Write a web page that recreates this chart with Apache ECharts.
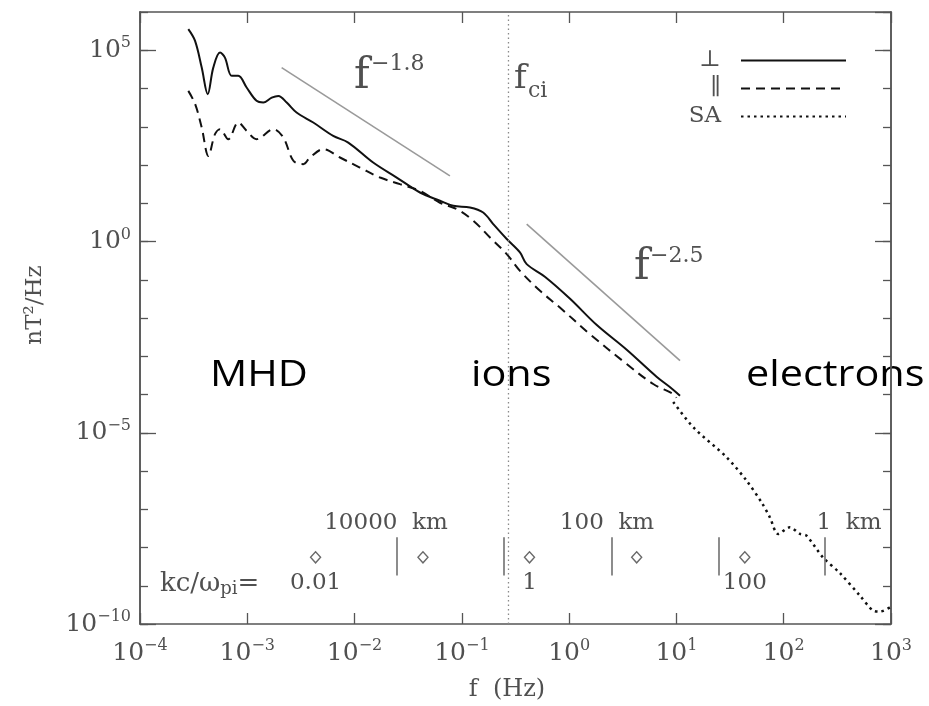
<!DOCTYPE html>
<html>
<head>
<meta charset="utf-8">
<script src="https://cdn.jsdelivr.net/npm/echarts@6/dist/echarts.min.js"></script>
<style>
  html, body { margin: 0; padding: 0; background: #fff; }
  #chart { width: 929px; height: 706px; }
</style>
</head>
<body>
<div id="chart"></div>
<script>
// Magnetic-field power spectral density in the solar wind, from MHD to electron scales.

// Perpendicular component (solid)
const perpFreq = [2.82e-4, 3.26e-4, 3.76e-4, 4.28e-4, 4.82e-4, 5.57e-4, 6.19e-4, 7.16e-4, 8.24e-4, 9.86e-4,
  1.22e-3, 1.41e-3, 1.69e-3, 1.95e-3, 2.33e-3, 2.88e-3, 4.12e-3, 6.32e-3, 8.73e-3, 0.0149,
  0.0247, 0.0407, 0.0625, 0.0832, 0.119, 0.158, 0.196, 0.262, 0.348, 0.402,
  0.594, 1.02, 1.80, 3.44, 6.53, 9.08, 10.8];
const perpPsd = [3.55e5, 1.75e5, 3.52e4, 7.11e3, 3.52e4, 8.69e4, 6.43e4, 2.14e4, 2.14e4, 1.06e4,
  4.75e3, 4.29e3, 5.79e3, 6.41e3, 4.29e3, 2.35e3, 1.29e3, 578, 386, 116,
  47.0, 19.1, 11.6, 8.57, 7.73, 5.73, 2.85, 1.16, 0.516, 0.256,
  0.120, 0.0318, 6.65e-3, 1.48e-3, 2.92e-4, 1.42e-4, 9.29e-5];

// Parallel component (dashed)
const parFreq = [2.82e-4, 3.26e-4, 3.76e-4, 4.34e-4, 5.00e-4, 5.57e-4, 6.65e-4, 8.24e-4, 9.86e-4, 1.22e-3,
  1.75e-3, 2.17e-3, 2.69e-3, 3.33e-3, 3.84e-3, 5.11e-3, 7.31e-3, 0.0112, 0.0173, 0.0265,
  0.0407, 0.0625, 0.0895, 0.128, 0.183, 0.262, 0.348, 0.535, 0.820, 1.56,
  3.44, 6.08, 9.33, 10.0];
const parPsd = [8.67e3, 3.96e3, 953, 173, 640, 865, 474, 1.29e3, 782, 474,
  865, 522, 129, 105, 157, 259, 157, 85.9, 47.0, 31.6,
  21.1, 10.3, 7.03, 3.48, 1.27, 0.469, 0.171, 0.0515, 0.0188, 3.80e-3,
  6.25e-4, 1.88e-4, 1.03e-4, 8.24e-5];

// Search-coil (SA) spectrum (dotted)
const saFreq = [9.33, 14.4, 29.4, 45.1, 63.1, 74.3, 88.9, 114, 142, 163, 233, 334, 513, 682, 789, 977];
const saPsd = [6.41e-5, 1.38e-5, 2.27e-6, 5.58e-7, 1.41e-7, 6.14e-8, 2.26e-8, 3.37e-8, 2.26e-8, 2.04e-8,
  5.43e-9, 2.14e-9, 5.52e-10, 2.24e-10, 2.11e-10, 2.73e-10];

// Reference power laws
const lowSlopeFreq = [2.09e-3, 0.0774];
const lowSlopePsd = [3.52e4, 52.1];
const highSlopeFreq = [0.402, 10.8];
const highSlopePsd = [2.85, 7.64e-4];

// Ion cyclotron frequency (Hz)
const fci = 0.272;

// kc/omega_pi markers
const kcFreq = [4.33e-3, 0.0434, 0.427, 4.26, 43.4];
const kcLevel = 5.53e-9;
const kcLabels = ['0.01', '', '1', '', '100'];

// Spatial scale bars (10000 km ... 1 km)
const scaleFreq = [0.0247, 0.248, 2.48, 24.9, 242];
const scaleTop = 1.84e-8;
const scaleBottom = 1.84e-9;

// Axis ranges and labelled decades
const xMinExp = -4, xMaxExp = 3;
const yMinExp = -10, yMaxExp = 6;
const xTickExp = [-4, -3, -2, -1, 0, 1, 2, 3];
const yTickExp = [-10, -5, 0, 5];

const SERIF = 'DejaVu Serif';
const SANS = 'Open Sans';
const INK = '#505050';
const AXIS = '#555';

const lg = Math.log10;
const pairs = (fs, ps) => fs.map((f, i) => [lg(f), lg(ps[i])]);
const supText = e => (e < 0 ? '\u2212' + (-e) : String(e));
const powLabel = e => '{b|10}{s|' + supText(e) + '}';
const richPow = {
  b: { fontFamily: SERIF, fontSize: 25, lineHeight: 30, color: INK },
  s: { fontFamily: SERIF, fontSize: 16, lineHeight: 13, verticalAlign: 'top', color: INK }
};

function baseX(pos, showLabel) {
  return {
    type: 'value', position: pos, min: xMinExp, max: xMaxExp, interval: 1,
    axisLine: { show: true, onZero: false, lineStyle: { color: AXIS, width: 1.5 } },
    axisTick: { show: true, inside: true, length: 11, lineStyle: { color: AXIS, width: 1.3 } },
    splitLine: { show: false },
    axisLabel: showLabel ? {
      show: true, margin: 14,
      formatter: v => (xTickExp.includes(v) ? powLabel(v) : ''),
      rich: richPow
    } : { show: false }
  };
}
function baseY(pos, interval, tickLen, showLabel) {
  return {
    type: 'value', position: pos, min: yMinExp, max: yMaxExp, interval: interval,
    axisLine: { show: true, onZero: false, lineStyle: { color: AXIS, width: 1.5 } },
    axisTick: { show: true, inside: true, length: tickLen, lineStyle: { color: AXIS, width: 1.3 } },
    splitLine: { show: false },
    axisLabel: showLabel ? {
      show: true, margin: 9, showMaxLabel: false,
      formatter: v => (yTickExp.includes(v) ? powLabel(v) : ''),
      rich: richPow
    } : { show: false }
  };
}

function txt(str, x, y, size, family, align, extra) {
  return Object.assign({
    type: 'text', x: x, y: y, silent: true,
    style: { text: str, fontFamily: family, fontSize: size, fill: family === SANS ? '#000' : INK,
      align: align, verticalAlign: 'middle' }
  }, extra || {});
}

const chart = echarts.init(document.getElementById('chart'), null, { renderer: 'canvas' });

chart.setOption({
  animation: false,
  backgroundColor: '#fff',
  textStyle: { fontFamily: SERIF },
  grid: { left: 140, top: 12, width: 751, height: 612, containLabel: false, outerBoundsMode: 'none' },
  xAxis: [baseX('bottom', true), baseX('top', false)],
  yAxis: [
    baseY('left', 5, 16, true),
    baseY('left', 1, 8, false),
    baseY('right', 5, 16, false),
    baseY('right', 1, 8, false)
  ],
  legend: {
    data: ['\u22A5', '\u2225', 'SA'],
    orient: 'vertical', align: 'right',
    right: 77, top: 44,
    itemWidth: 105, itemHeight: 14, itemGap: 5,
    selectedMode: false,
    itemStyle: { opacity: 0 },
    textStyle: { fontFamily: SERIF, fontSize: 23, color: INK, lineHeight: 16, padding: [0, 15, 0, 0] }
  },
  series: [
    {
      name: '\u22A5', type: 'line', data: pairs(perpFreq, perpPsd),
      smooth: 0.35, showSymbol: false, symbol: 'none', color: '#111',
      lineStyle: { color: '#111', width: 2 }
    },
    {
      name: '\u2225', type: 'line', data: pairs(parFreq, parPsd),
      smooth: 0.35, showSymbol: false, symbol: 'none', color: '#111',
      lineStyle: { color: '#111', width: 2, type: [9, 6] }
    },
    {
      name: 'SA', type: 'line', data: pairs(saFreq, saPsd),
      smooth: 0.3, showSymbol: false, symbol: 'none', color: '#111',
      lineStyle: { color: '#111', width: 2.5, type: [2.5, 4] }
    },
    {
      name: 'slope -1.8', type: 'line', data: pairs(lowSlopeFreq, lowSlopePsd),
      showSymbol: false, symbol: 'none', silent: true,
      lineStyle: { color: '#9a9a9a', width: 1.6 }
    },
    {
      name: 'slope -2.5', type: 'line', data: pairs(highSlopeFreq, highSlopePsd),
      showSymbol: false, symbol: 'none', silent: true,
      lineStyle: { color: '#9a9a9a', width: 1.6 }
    },
    {
      name: 'f_ci', type: 'line', data: [[lg(fci), yMinExp], [lg(fci), yMaxExp]],
      showSymbol: false, symbol: 'none', silent: true,
      lineStyle: { color: '#8a8a8a', width: 1.3, type: [1.5, 3] }
    },
    {
      name: 'kc', type: 'scatter', silent: true,
      data: kcFreq.map(f => [lg(f), lg(kcLevel)]),
      symbol: 'diamond', symbolSize: [10, 11],
      itemStyle: { color: '#fff', borderColor: '#444', borderWidth: 1.4 },
      label: {
        show: true, position: 'bottom', distance: 8,
        formatter: p => kcLabels[p.dataIndex],
        fontFamily: SERIF, fontSize: 23, color: INK, textBorderWidth: 0, opacity: 1
      },
      markLine: {
        silent: true, symbol: ['none', 'none'],
        label: { show: false },
        lineStyle: { color: '#707070', width: 1.6, type: 'solid' },
        data: scaleFreq.map(f => [
          { coord: [lg(f), lg(scaleTop)] },
          { coord: [lg(f), lg(scaleBottom)] }
        ])
      }
    }
  ],
  graphic: [
    // power-law annotations
    txt('f', 354, 77, 42, SERIF, 'left'),
    txt('\u22121.8', 371, 64, 22, SERIF, 'left'),
    txt('f', 634, 268, 42, SERIF, 'left'),
    txt('\u22122.5', 650, 256, 22, SERIF, 'left'),
    // cyclotron frequency label
    txt('f', 514, 79, 34, SERIF, 'left'),
    txt('ci', 528, 91, 22, SERIF, 'left'),
    // spatial scale labels
    txt('10000  km', 386, 523, 23, SERIF, 'center'),
    txt('100  km', 607, 523, 23, SERIF, 'center'),
    txt('1  km', 849, 523, 23, SERIF, 'center'),
    // kc/omega_pi caption
    {
      type: 'text', x: 160, y: 584, silent: true,
      style: {
        text: '{a|kc/\u03C9}{p|pi}{a|=}', verticalAlign: 'middle', align: 'left',
        rich: {
          a: { fontFamily: SERIF, fontSize: 26, lineHeight: 28, fill: INK, color: INK },
          p: { fontFamily: SERIF, fontSize: 18, lineHeight: 10, verticalAlign: 'bottom', fill: INK, color: INK }
        }
      }
    },
    // axis titles
    txt('nT\u00B2/Hz', 35, 305, 23, SERIF, 'center', { rotation: Math.PI / 2 }),
    txt('f  (Hz)', 507, 690, 24, SERIF, 'center'),
    // regime labels
    txt('MHD', 210, 376, 36, SANS, 'left', { scaleX: 1.15 }),
    txt('ions', 471, 376, 36, SANS, 'left', { scaleX: 1.15 }),
    txt('electrons', 746, 376, 36, SANS, 'left', { scaleX: 1.15 })
  ]
});
</script>
</body>
</html>
